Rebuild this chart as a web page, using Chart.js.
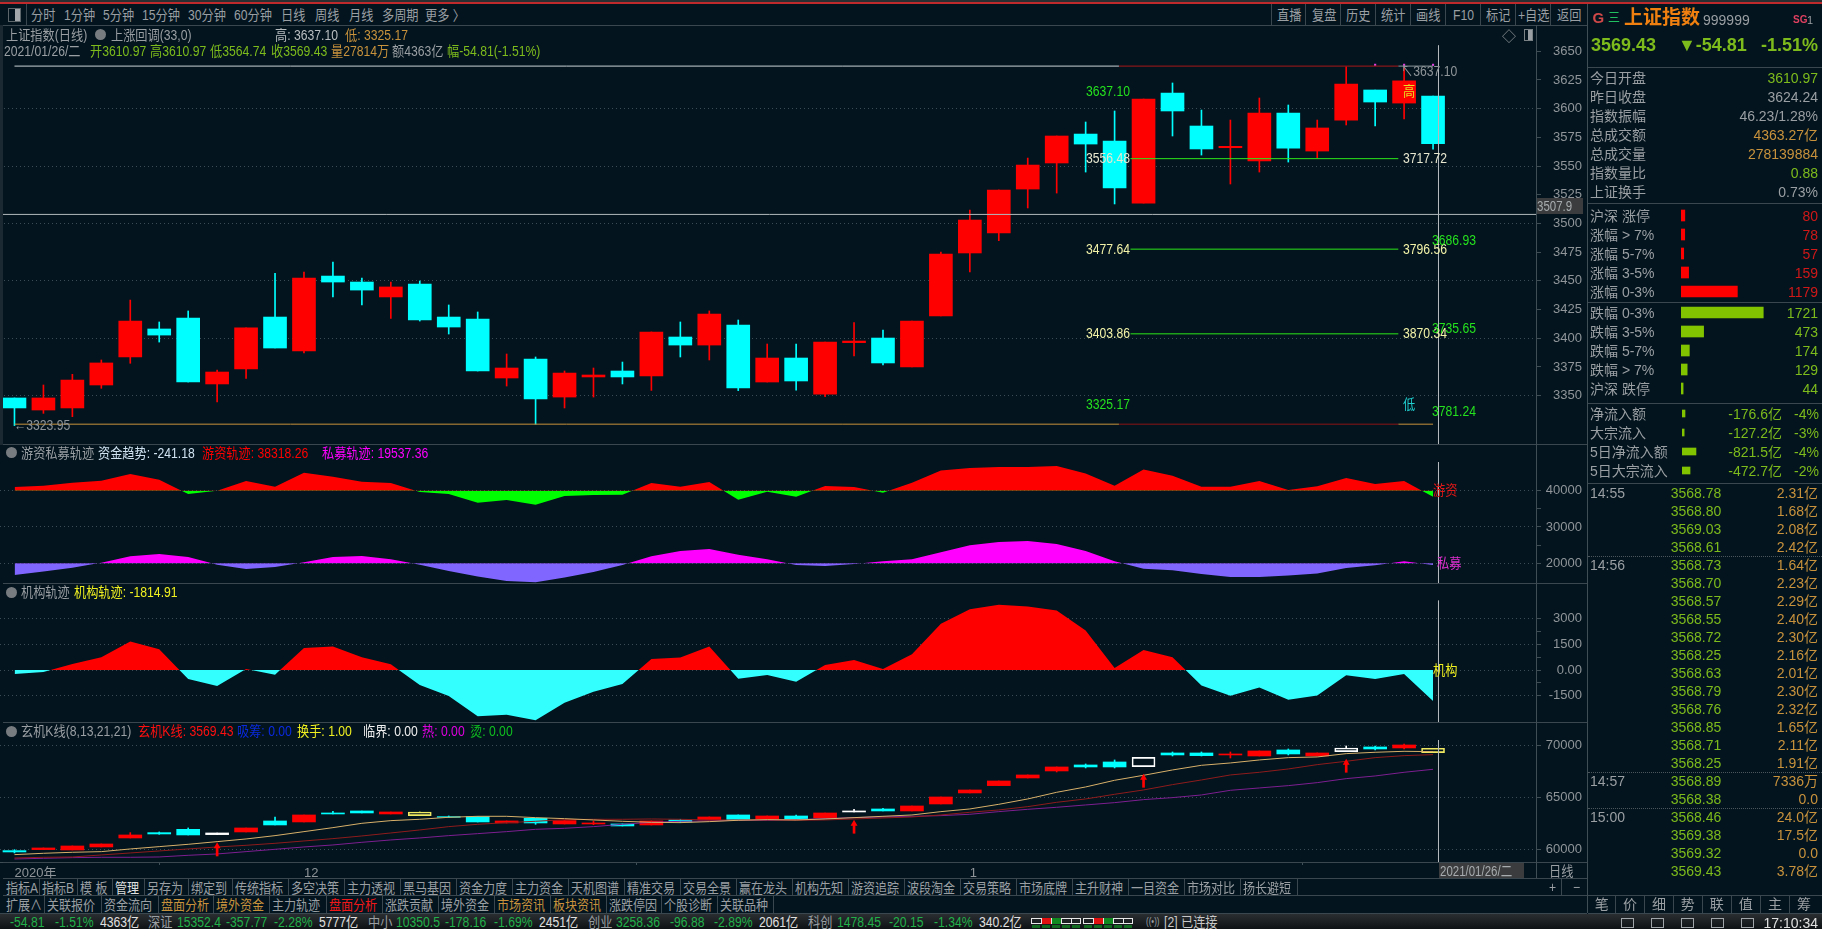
<!DOCTYPE html>
<html lang="zh">
<head>
<meta charset="utf-8">
<title>上证指数</title>
<script src="https://cdn.jsdelivr.net/npm/chart.js@4"></script>
<style>
html,body{margin:0;padding:0;background:#03141e;width:1822px;height:929px;overflow:hidden}
body{position:relative;font-family:'Liberation Sans','Noto Sans CJK SC',sans-serif}
canvas{position:absolute;display:block}
.t{position:absolute;white-space:pre;line-height:18px;height:18px}
.r{position:absolute;background:#3a474e}
</style>
</head>
<body>
<script>
// ---------- main candles ----------
const mainOpen=[3348.0,3337.5,3339.3,3359.3,3383.7,3408.1,3417.7,3360.2,3373.2,3418.5,3388.9,3454.2,3449.0,3436.0,3447.3,3418.5,3416.8,3365.4,3381.9,3348.8,3366.3,3371.5,3367.1,3401.1,3394.1,3411.6,3361.9,3382.8,3351.4,3396.2,3400.2,3375.0,3419.4,3474.3,3491.7,3530.0,3552.7,3577.9,3571.8,3517.8,3613.6,3584.9,3566.0,3554.4,3596.2,3563.1,3590.1,3616.3,3604.9,3610.97];
const mainClose=[3339.3,3348.0,3363.6,3378.5,3415.0,3402.8,3361.9,3370.6,3409.0,3391.5,3452.5,3449.0,3442.0,3444.7,3415.9,3409.8,3371.5,3374.1,3347.1,3369.7,3368.0,3366.3,3405.5,3394.1,3421.1,3356.7,3382.8,3362.8,3396.7,3397.6,3378.5,3415.0,3473.4,3503.0,3529.2,3550.9,3576.2,3569.2,3530.9,3608.4,3598.0,3564.9,3567.2,3596.2,3565.7,3583.2,3621.5,3605.8,3624.24,3569.43];
const mainHigh=[3348.0,3359.3,3368.6,3381.1,3433.3,3414.2,3423.8,3372.4,3409.0,3456.6,3457.7,3466.4,3452.5,3449.0,3449.9,3429.0,3422.9,3386.3,3383.7,3371.5,3374.1,3379.3,3405.5,3414.2,3423.8,3415.9,3395.0,3395.0,3396.7,3413.6,3407.2,3415.0,3475.1,3511.7,3529.2,3557.0,3576.2,3588.4,3598.0,3608.4,3622.4,3598.8,3590.1,3609.3,3603.2,3590.1,3636.5,3616.3,3637.10,3610.97];
const mainLow=[3323.95,3334.6,3331.7,3356.4,3378.2,3396.7,3361.9,3344.5,3365.1,3391.5,3387.2,3436.0,3429.0,3417.4,3415.0,3403.7,3371.5,3358.4,3325.17,3339.3,3348.8,3360.2,3354.6,3383.7,3381.1,3354.4,3361.9,3354.9,3349.1,3384.6,3376.7,3375.0,3419.4,3457.7,3485.0,3513.5,3526.5,3544.8,3517.0,3517.8,3576.2,3559.6,3534.4,3544.8,3553.5,3557.0,3585.8,3584.9,3591.0,3564.74];
const mainTicks=[3350,3375,3400,3425,3450,3475,3500,3525,3550,3575,3600,3625,3650];
const mainGrid=[3350,3400,3450,3500,3550,3600];
const priceHigh=3637.10, priceLow=3325.17, crossPrice=3507.9;
const fibLevels=[3556.48,3477.64,3403.86];
// ---------- indicator 1 ----------
const hotMoney=[41009,41376,42200,42751,44585,43026,39083,40000,42659,41100,44952,43851,42476,42109,39633,39083,36699,37432,36149,38533,38808,38900,42109,41100,42384,37524,39725,38349,41284,41009,39450,42200,45594,46236,46511,46511,46786,44768,41376,45869,44127,41100,41100,42659,40183,41192,43485,41834,42659,38318.26];
const privateFund=[16791,17708,18808,20183,21926,22568,21742,19633,18441,18991,20275,21742,22017,21100,19633,17891,16332,15140,14773,16057,17616,19541,21926,23393,23943,22384,21100,19541,19266,19817,20550,21100,23026,24952,25869,26144,25319,23393,20550,18533,18074,17066,16240,16240,16607,17157,18716,19450,20550,19537.36];
const flowTicks=[20000,25000,30000,35000,40000];
const flowLabels=[20000,30000,40000];
// ---------- indicator 2 ----------
const institution=[-235,-117,352,743,1663,1213,-528,-939,59,-274,1291,1369,743,333,-880,-1526,-2699,-2621,-2934,-1917,-1271,-822,645,724,1369,-509,-293,-685,293,587,59,919,2699,3560,3814,3716,3482,2308,117,1174,743,-900,-1506,-1017,-1741,-1487,-313,-528,-235,-1814.91];
const instTicks=[-1500,-750,0,750,1500,2250,3000];
const instLabels=[-1500,0,1500,3000];
// ---------- indicator 3 ----------
const xTop=[59872,60129,60321,60513,61379,61603,61923,61571,62052,62725,63302,63494,63686,63590,63590,63141,63141,62725,62981,62757,62533,62436,62725,62821,63109,63302,63205,63205,63494,63686,63878,64167,65032,65705,66571,67148,67917,68109,68397,68846,69263,69263,69167,69455,69551,69263,69744,69840,70032,69712];
const xBot=[59744,59968,59936,60225,61090,61475,61379,61411,61667,62340,62629,63398,63494,63398,63237,63077,62629,62533,62533,62436,62436,62244,62340,62629,62821,62821,62917,62917,63013,63590,63686,63686,64359,65417,66122,66859,67532,67917,67917,67949,69071,69006,69071,68974,69167,68974,69391,69647,69744,69295];
const xHigh=[59968,60129,60321,60513,61603,61667,62052,61571,62052,63109,63302,63654,63686,63590,63590,63205,63141,62725,62981,62757,62725,62436,62725,62885,63109,63302,63205,63302,63494,63846,63942,64167,65032,65705,66571,67148,67917,68205,68590,68846,69359,69359,69359,69455,69647,69263,69936,69936,70128,69712];
const xLow=[59648,59968,59936,60225,61090,61443,61379,61411,61667,62340,62629,63398,63494,63398,63237,63077,62629,62533,62404,62436,62372,62244,62340,62564,62821,62821,62917,62917,63013,63590,63686,63686,64359,65417,66122,66859,67436,67821,67821,67949,68974,68974,68782,68974,69071,68974,69391,69551,69647,69295];
const xKind=['c','r','r','r','r','c','c','w','r','c','r','c','c','r','Y','c','c','r','c','r','r','c','r','c','r','c','r','c','r','w','c','r','r','r','r','r','r','c','c','W','c','c','r','r','c','r','W','c','r','Y'];
const xFast=[59488,59616,59712,59776,60032,60257,60481,60738,60994,61314,61699,62084,62500,62757,62885,63077,63173,63173,63045,62949,62821,62693,62596,62564,62661,62789,62853,62821,62917,63045,63173,63302,63622,63878,64327,64840,65481,65994,66635,67115,67628,68077,68301,68590,68814,68878,69199,69327,69423,69391];
const xMid=[59167,59231,59263,59456,59648,59840,60032,60225,60385,60577,60802,61026,61282,61571,61859,62180,62404,62564,62693,62853,62885,62885,62917,62885,62821,62821,62821,62789,62821,62917,63013,63109,63302,63558,63782,64103,64519,64840,65289,65705,66218,66667,67148,67404,67724,68141,68462,68814,69006,69103];
const xSlow=[59071,59135,59199,59231,59231,59263,59423,59552,59776,60000,60225,60417,60673,60898,61090,61314,61507,61699,61923,62020,62180,62404,62596,62693,62725,62789,62789,62853,62949,63045,63109,63173,63237,63366,63622,63846,64039,64263,64487,64776,64968,65225,65673,65898,66122,66410,66795,67051,67404,67692];
const arrowIdx=[7,29,39,46];
const arrowBase=[59359,61539,65962,67404];
const arrowShaftTop=[60289,62468,66891,68333];
const xuanTicks=[60000,65000,70000];
const dateTickIdx=[0,10,33];
const dateTickText=['2020年','12','1'];
// ---------- side panel ----------
const riseCats=['沪深 涨停','涨幅 > 7%','涨幅 5-7%','涨幅 3-5%','涨幅 0-3%'];
const riseVals=[80,78,57,159,1179];
const fallCats=['跌幅 0-3%','跌幅 3-5%','跌幅 5-7%','跌幅 > 7%','沪深 跌停'];
const fallVals=[1721,473,174,129,44];
const netCats=['净流入额','大宗流入','5日净流入额','5日大宗流入'];
const netVals=[176.6,127.2,821.5,472.7];
const netText=['-176.6亿','-127.2亿','-821.5亿','-472.7亿'];
const netPct=['-4%','-3%','-4%','-2%'];
const tradePrice=['3568.78','3568.80','3569.03','3568.61','3568.73','3568.70','3568.57','3568.55','3568.72','3568.25','3568.63','3568.79','3568.76','3568.85','3568.71','3568.25','3568.89','3568.38','3568.46','3569.38','3569.32','3569.43'];
const tradeAmt=['2.31亿','1.68亿','2.08亿','2.42亿','1.64亿','2.23亿','2.29亿','2.40亿','2.30亿','2.16亿','2.01亿','2.30亿','2.32亿','1.65亿','2.11亿','1.91亿','7336万','0.0','24.0亿','17.5亿','0.0','3.78亿'];

// ---------- palette ----------
const RED='#ff0000',CYAN='#00ffff',GRAY='#9a9fa3',GREEN='#7dbb1c',ORANGE='#c8923c',AXIS='#3f4d55',GRID='rgba(150,165,175,.38)';
const FS="'Liberation Sans','Noto Sans CJK SC',sans-serif";

// ---------- helpers ----------
const pts=a=>a.map((v,i)=>({x:i,y:v}));
const rng=(a,b)=>a.map((v,i)=>({x:i,y:[v,b[i]]}));
const seg=(x0,x1,v)=>[{x:x0,y:v},{x:x1,y:v}];
const xMinIdx=-0.5,xMaxIdx=52.556,crossIdx=49.188;
function canvas(l,t,w,h){const c=document.createElement('canvas');c.width=w;c.height=h;c.style.left=l+'px';c.style.top=t+'px';c.style.width=w+'px';c.style.height=h+'px';document.body.appendChild(c);return c;}
function hline(x0,x1,v,color,order=1){return {type:'line',data:seg(x0,x1,v),borderColor:color,borderWidth:1,pointRadius:0,order};}
function vline(x,top,bot){return {type:'line',data:[{x,y:top},{x,y:bot}],borderColor:'#b4babd',borderWidth:1,pointRadius:0,order:0};}
function yAxis(min,max,ticks,labels,grid,pad){return {
  position:'right',type:'linear',min,max,
  afterBuildTicks:a=>{a.ticks=ticks.map(v=>({value:v}));},
  afterFit:s=>{s.width=46;s.paddingTop=0;s.paddingBottom=0;},
  border:{color:AXIS,dash:[1,3]},
  grid:{color:c=>grid.includes(c.tick.value)?GRID:'rgba(0,0,0,0)',tickColor:AXIS,tickLength:5,tickBorderDash:[]},
  ticks:{color:'#8f9599',font:{family:FS,size:13},padding:pad,crossAlign:'far',autoSkip:false,
    callback:v=>labels.includes(v)?(v===0?'0.00':String(v)):''}
};}
const xHidden={type:'linear',min:xMinIdx,max:xMaxIdx,display:false,offset:false,grid:{display:false}};
const baseOpts=(x,y)=>({responsive:false,animation:false,devicePixelRatio:1,layout:{padding:0,autoPadding:false},
  plugins:{legend:{display:false},tooltip:{enabled:false}},elements:{line:{tension:0}},
  scales:{x,y}});

// main
new Chart(canvas(0,25,1582,419),{type:'bar',data:{datasets:[
  hline(0,38.15,priceHigh,'#c9d2d6'),hline(38.15,47.8,priceHigh,'#a81818'),hline(47.8,49,priceHigh,'#8d979c'),
  hline(0,38.15,priceLow,'#c8923c'),hline(38.15,47.8,priceLow,'#8c1616'),hline(47.8,49,priceLow,'#c8923c'),
  ...fibLevels.map(v=>hline(38.55,47.8,v,'#2ce81a')),
  hline(xMinIdx+.1,xMaxIdx,crossPrice,'#b4babd',0),
  vline(crossIdx,3655,3307.9),
  {type:'line',data:[{x:47,y:3638.2},{x:48,y:3638.2},{x:49,y:3638.2}],showLine:false,pointStyle:'rect',pointRadius:1.5,pointBackgroundColor:'#e040e0',pointBorderWidth:0,order:1},
  {data:rng(mainLow,mainHigh),backgroundColor:mainClose.map((c,i)=>c>=mainOpen[i]?RED:CYAN),barThickness:1,grouped:false,order:3},
  {data:rng(mainOpen,mainClose),backgroundColor:mainClose.map((c,i)=>c>=mainOpen[i]?RED:CYAN),barThickness:23,grouped:false,order:2}
]},options:baseOpts(xHidden,yAxis(3307.9,3672.9,mainTicks,mainTicks,mainGrid,11))});

// indicator 1
new Chart(canvas(0,444,1582,139),{type:'line',data:{datasets:[
  {data:pts(hotMoney),borderWidth:0,borderColor:'rgba(0,0,0,0)',pointRadius:0,fill:{value:40000,above:RED,below:'#00ff00'}},
  {data:pts(privateFund),borderWidth:0,borderColor:'rgba(0,0,0,0)',pointRadius:0,fill:{value:20000,above:'#ff00ff',below:'#8066ff'}},
  vline(crossIdx,47906,14573)
]},options:baseOpts(xHidden,yAxis(14573,52865,flowTicks,flowLabels,flowLabels,4))});

// indicator 2
new Chart(canvas(0,583,1582,139),{type:'line',data:{datasets:[
  {data:pts(institution),borderWidth:0,borderColor:'rgba(0,0,0,0)',pointRadius:0,fill:{value:0,above:RED,below:'#33ffff'}},
  vline(crossIdx,4053,-3041)
]},options:baseOpts(xHidden,yAxis(-3041,5088,instTicks,instLabels,instLabels,7))});

// indicator 3
const hollow=k=>k==='W'||k==='Y';
const kFill=k=>({r:RED,c:CYAN,w:'#ffffff',W:'rgba(0,0,0,0)',Y:'rgba(0,0,0,0)'}[k]);
const kEdge=k=>({r:RED,c:CYAN,w:'#ffffff',W:'#ffffff',Y:'#f0e860'}[k]);
new Chart(canvas(0,722,1582,157),{type:'bar',data:{datasets:[
  {type:'line',data:pts(xFast),borderColor:'#d8b06a',borderWidth:1,pointRadius:0,order:1},
  {type:'line',data:pts(xMid),borderColor:'#8e1c1c',borderWidth:1,pointRadius:0,order:1},
  {type:'line',data:pts(xSlow),borderColor:'#7d1f90',borderWidth:1,pointRadius:0,order:1},
  vline(crossIdx,70510,58779),
  {type:'line',data:arrowIdx.map((i,k)=>({x:i,y:arrowShaftTop[k]})),showLine:false,pointStyle:'triangle',pointRadius:4,pointBackgroundColor:RED,pointBorderWidth:0,order:0},
  {data:arrowIdx.map((i,k)=>({x:i,y:[arrowBase[k],arrowShaftTop[k]]})),backgroundColor:RED,barThickness:2,grouped:false,order:0},
  {data:xKind.map((k,i)=>({x:i,y:[hollow(k)?xTop[i]:xLow[i],xHigh[i]]})),backgroundColor:xKind.map(kEdge),barThickness:1,grouped:false,order:3},
  {data:rng(xBot,xTop),backgroundColor:xKind.map(kFill),borderColor:xKind.map(kEdge),borderWidth:xKind.map(k=>hollow(k)?1:0),borderSkipped:false,barThickness:23,grouped:false,order:2}
]},options:baseOpts({type:'linear',min:xMinIdx,max:xMaxIdx,offset:false,position:'bottom',
  afterBuildTicks:a=>{a.ticks=dateTickIdx.map(v=>({value:v}));},
  afterFit:s=>{s.height=17;s.paddingLeft=0;s.paddingRight=0;},
  border:{color:AXIS},
  grid:{drawOnChartArea:false,tickColor:AXIS,tickLength:3},
  ticks:{color:'#8f9599',font:{family:FS,size:13},align:'start',maxRotation:0,autoSkip:false,padding:1,
    callback:v=>dateTickText[dateTickIdx.indexOf(v)]||''}
},yAxis(58779,72240,xuanTicks,xuanTicks,xuanTicks,4))});

// side bars
function hbars(l,t,w,h,labels,vals,color,maxV,thick){
  new Chart(canvas(l,t,w,h),{type:'bar',data:{labels,datasets:[{data:vals,backgroundColor:color,barThickness:thick,minBarLength:2}]},
    options:{indexAxis:'y',responsive:false,animation:false,devicePixelRatio:1,layout:{padding:0,autoPadding:false},
      plugins:{legend:{display:false},tooltip:{enabled:false}},
      scales:{x:{display:false,min:0,max:maxV},y:{display:false}}}});
}
hbars(1681,206,100,95,riseCats,riseVals,RED,2092,11);
hbars(1681,303,100,95,fallCats,fallVals,'#82c400',2092,11);
hbars(1682,404,60,76,netCats,netVals,'#82c400',3529,7);

// ---------- text ----------
function T(s,x,y,color=GRAY,o={}){
  const d=document.createElement('div');d.className='t';d.textContent=s;
  const size=o.size||14,sx=o.sx===undefined?.87:o.sx;
  d.style.color=color;d.style.fontSize=size+'px';d.style.top=(y-9)+'px';
  if(o.bold)d.style.fontWeight='bold';
  if(o.align==='right'){d.style.right=(1822-x)+'px';d.style.transformOrigin='right center';}
  else if(o.align==='center'){d.style.left=x+'px';d.style.transform='translateX(-50%)';document.body.appendChild(d);return d;}
  else{d.style.left=x+'px';d.style.transformOrigin='left center';}
  if(sx!==1)d.style.transform='scaleX('+sx+')';
  if(o.bg)d.style.background=o.bg;
  document.body.appendChild(d);return d;
}
function R(x,y,w,h,c='#3a474e'){const d=document.createElement('div');d.className='r';d.style.cssText=`left:${x}px;top:${y}px;width:${w}px;height:${h}px;background:${c}`;document.body.appendChild(d);return d;}
function Box(x,y,w,h,c){const d=R(x,y,w,h,'transparent');d.style.border='1px solid '+c;d.style.boxSizing='border-box';return d;}
function Dot(x,y){const d=R(x-5.5,y-5.5,11,11,'#777c80');d.style.borderRadius='50%';}

// top strip
R(0,0,1822,2,'#2c2f31');R(0,2,1822,2,'#bf2a2c');
// separators
[25,444,583,722].forEach(y=>R(3,y,1584,1));
R(0,25,3,420,'#1b2a32');
R(3,862,1584,1);R(3,878,1584,1);R(3,895,1584,1);R(0,913,1587,1);
R(1536,25,1,853,AXIS);R(1587,4,1,909,'#3f4d55');
// toolbar left
Box(8,8,13,14,'#5c666b');R(15,9,5,12,'#a0a6a9');R(26,4,1,21);
[['分时',31],['1分钟',64],['5分钟',103],['15分钟',142],['30分钟',188],['60分钟',234],['日线',281],['周线',315],['月线',349],['多周期',382],['更多 〉',425]].forEach(a=>T(a[0],a[1],14.7));
// toolbar right
[['直播',1277],['复盘',1311.6],['历史',1346],['统计',1381],['画线',1416],['F10',1453],['标记',1486],['+自选',1518],['返回',1557]].forEach(a=>{T(a[0],a[1],14.7);});
[1271,1305,1340,1375,1410,1445,1480,1515,1550].forEach(x=>R(x,4,1,21));
// chart heading
T('上证指数(日线)',6,34.7);Dot(100,34.7);T('上涨回调(33,0)',110.5,34.7);
T('高: 3637.10',275,34.7,'#b9bec1');T('低: 3325.17',344.6,34.7,ORANGE);
T('2021/01/26/二',4,50.7);
T('开3610.97',89.7,50.7,GREEN);T('高3610.97',150,50.7,GREEN);T('低3564.74',210,50.7,GREEN);T('收3569.43',270.5,50.7,GREEN);
T('量27814万',330.6,50.7,ORANGE);T('额4363亿',392,50.7);T('幅-54.81(-1.51%)',447.4,50.7,GREEN);
T('◇',1502,35.7,'#8a9094',{sx:1});Box(1524,29,9,12,'#7a8286');R(1528,30,4,10,'#9aa0a3');
// chart annotations
const FIBY='#f3f3a8',LG='#25e21e',W='#e8e8d0';
T('3637.10',1085.6,90.7,LG);T('3556.48',1085.6,157.7,W);T('3477.64',1085.6,248.7,FIBY);T('3403.86',1085.6,333,FIBY);T('3325.17',1085.6,403.5,LG);
T('3717.72',1403,157.7,W);T('3796.56',1403,248.7,FIBY);T('3870.34',1403,333,FIBY);
T('3686.93',1432.3,239.7,LG);T('3735.65',1432.3,328,LG);T('3781.24',1432.3,411,LG);
T('高',1403,91,'#e8e020');T('低',1403,404,'#20d0d0');
T('↖3637.10',1401,71,'#8f9599');T('←3323.95',14,425,'#8f9599');
// price badge
const bg=R(1537,198,46,16,'#3a3c3d');T('3507.9',1537,206,'#a8acae',{sx:.82});
// indicator headings
Dot(11,452.7);T('游资私募轨迹',21,452.7);T('资金趋势: -241.18',98,452.7,'#cfe2f0');T('游资轨迹: 38318.26',201.5,452.7,RED);T('私募轨迹: 19537.36',322.4,452.7,'#ff00ff');
Dot(11,592);T('机构轨迹',21,592);T('机构轨迹: -1814.91',74,592,'#f0f020');
Dot(11,731);T('玄机K线(8,13,21,21)',21,731);T('玄机K线: 3569.43',137.8,731,'#ff1010');T('吸筹: 0.00',237,731,'#0a2ae0');T('换手: 1.00',297,731,'#f0f020');T('临界: 0.00',362.8,731,'#f0f0f0');T('热: 0.00',422,731,'#e000e0');T('烫: 0.00',470,731,'#10c020');
T('游资',1433,490,'#e01818');T('私募',1436.6,563,'#e030d0');T('机构',1433,670,'#f0f020');
// date box
R(1439,863,85,15,'#3a3c3d');T('2021/01/26/二',1440,870.7,'#a8acae',{sx:.82});T('日线',1549,870.7);
T('+',1549,887);T('−',1573,887);R(1561,879,1,16);
// row 1
const row1=[['指标A',6],['指标B',42],['模 板',80],['管理',115,'#e0e0e0'],['另存为',147],['绑定到',191],['传统指标',235],['多空决策',291],['主力透视',347],['黑马基因',403],['资金力度',459],['主力资金',515],['天机图谱',571],['精准交易',626.5],['交易全景',683],['赢在龙头',739],['机构先知',795],['游资追踪',851],['波段淘金',907],['交易策略',963],['市场底牌',1019],['主升财神',1075],['一目资金',1131],['市场对比',1186.6],['扬长避短',1243]];
row1.forEach(a=>{T(a[0],a[1],887.5,a[2]||GRAY,{sx:.86});if(a[1]>6)R(a[1]-3,879,1,16);});R(1297,879,1,16);
const row2=[['扩展∧',6],['关联报价',47.4],['资金流向',104],['盘面分析',160.7,ORANGE],['境外资金',216,ORANGE],['主力轨迹',272.4],['盘面分析',329,'#f01818'],['涨跌贡献',385],['境外资金',441],['市场资讯',497,ORANGE],['板块资讯',552.5,ORANGE],['涨跌停因',608.7],['个股诊断',663.8],['关联品种',720]];
row2.forEach(a=>{T(a[0],a[1],905,a[2]||GRAY,{sx:.86});if(a[1]>6)R(a[1]-3,896,1,17);});R(773,896,1,17);
// ticker
const tk=R(0,914,1822,15,'#14191c');tk.style.background='linear-gradient(#2a2e31,#0e1214)';
const TG='#22b04a',TW='#e0e0e0';
[['-54.81',10,TG],['-1.51%',55,TG],['4363亿',99.5,TW],['深证',148,GRAY],['15352.4',176.5,TG],['-357.77',226,TG],['-2.28%',274,TG],['5777亿',319,TW],['中小',368,GRAY],['10350.5',396,TG],['-178.16',445,TG],['-1.69%',494,TG],['2451亿',539,TW],['创业',588,GRAY],['3258.36',616,TG],['-96.88',670,TG],['-2.89%',714,TG],['2061亿',759,TW],['科创',808,GRAY],['1478.45',836.6,TG],['-20.15',889,TG],['-1.34%',934,TG],['340.2亿',978.5,TW],['[2]',1163.7,'#c8c8c8'],['已连接',1180.5,'#c8c8c8']].forEach(a=>T(a[0],a[1],922.3,a[2],{sx:.87}));
[[1031,['','#e01010','#108a20','','']],[1083,['','#e01010','#108a20','','']]].forEach(g=>{
  Box(g[0],918,50,6,'#e8e8e8');
  g[1].forEach((c,i)=>{if(c)R(g[0]+i*10,918,10,6,c);R(g[0]+i*10,918,1,6,'#e8e8e8');R(g[0]+i*10+1,925,8,3,'#116a20');});
});
T('((•))',1146,922.3,'#9aa0a3',{size:10,sx:.8});

// ---------- right panel ----------
const S={sx:1};
T('G',1592.5,18.3,'#d04848',{size:15,sx:1,bold:true});T('三',1608,18.3,'#20c060',{size:12,sx:1});
T('上证指数',1624,18,'#f08010',{size:19,sx:1,bold:true});T('999999',1703,19.5,GRAY,{size:14,sx:1});
T('SG',1793,20,'#e04060',{size:10,sx:1,bold:true});T('1',1807,20,GRAY,{size:11,sx:1});
T('3569.43',1591,45.3,GREEN,{size:18,sx:1,bold:true});T('▼-54.81',1678,45.3,GREEN,{size:18,sx:1,bold:true});T('-1.51%',1818,45.3,GREEN,{size:18,sx:1,bold:true,align:'right'});
[67,203,302,403,483].forEach(y=>R(1588,y,234,1));
[['今日开盘','3610.97',GREEN],['昨日收盘','3624.24',GRAY],['指数振幅','46.23/1.28%',GRAY],['总成交额','4363.27亿',ORANGE],['总成交量','278139884',ORANGE],['指数量比','0.88',GREEN],['上证换手','0.73%',GRAY]].forEach((a,i)=>{
  const y=78.3+i*19;T(a[0],1590,y,GRAY,S);T(a[1],1818,y,a[2],{sx:1,align:'right'});});
riseCats.forEach((s,i)=>{const y=215.7+i*19;T(s,1590,y,GRAY,S);T(String(riseVals[i]),1818,y,'#d01818',{sx:1,align:'right'});});
fallCats.forEach((s,i)=>{const y=313+i*19;T(s,1590,y,GRAY,S);T(String(fallVals[i]),1818,y,GREEN,{sx:1,align:'right'});});
netCats.forEach((s,i)=>{const y=413.7+i*19;T(s,1590,y,GRAY,S);T(netText[i],1782,y,GREEN,{sx:1,align:'right'});T(netPct[i],1819,y,GREEN,{sx:1,align:'right'});});
const tradeTime={0:'14:55',4:'14:56',16:'14:57',18:'15:00'};
tradePrice.forEach((p,i)=>{const y=492.7+i*18.01;
  if(tradeTime[i])T(tradeTime[i],1590,y,GRAY,S);
  T(p,1670.7,y,GREEN,S);T(tradeAmt[i],1818,y,ORANGE,{sx:1,align:'right'});});
[556,772,808].forEach(y=>{const d=R(1588,y,234,1,'transparent');d.style.borderTop='1px dotted #4a565c';});
R(1588,895,234,1);R(1588,913,234,1);
[['笔',1601.7],['价',1630],['细',1659],['势',1687.7],['联',1716.7],['值',1745.7],['主',1775],['筹',1804]].forEach((a,i)=>{T(a[0],a[1],904,GRAY,{sx:1,align:'center'});if(i)R(a[1]-15,896,1,17);});
[1621,1651,1681,1711,1741].forEach(x=>Box(x,918,13,10,'#a0a6a9'));
T('17:10:34',1818,923,'#e0e0e0',{sx:1,align:'right'});
</script>
</body>
</html>
